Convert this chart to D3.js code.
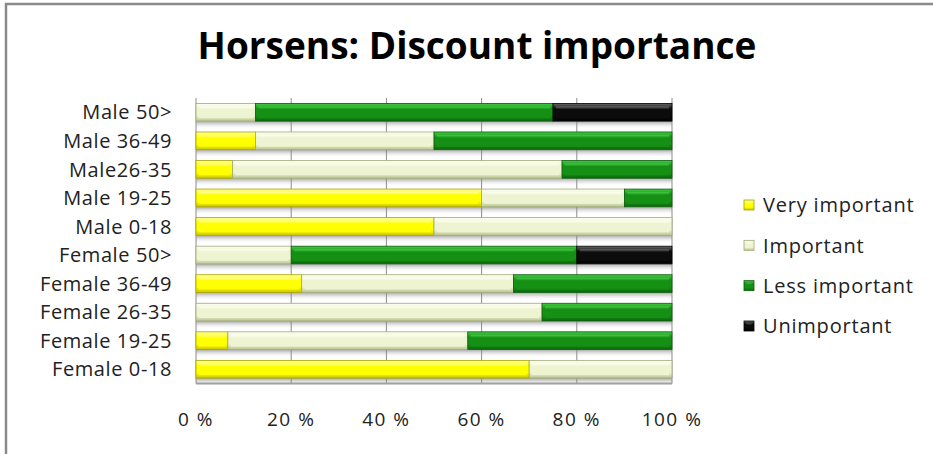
<!DOCTYPE html>
<html>
<head>
<meta charset="utf-8">
<script src="https://cdn.jsdelivr.net/npm/d3@7/dist/d3.min.js"></script>
<style>
  html, body { margin: 0; padding: 0; background: #fff; }
  svg { display: block; }
  text { font-family: "Open Sans", "Noto Sans", sans-serif; fill: #222; }
</style>
</head>
<body>
<svg id="chart" width="933" height="454"></svg>
<script>
// Respondent groups, top row first
const categories = [
  "Male 50>", "Male 36-49", "Male26-35", "Male 19-25", "Male 0-18",
  "Female 50>", "Female 36-49", "Female 26-35", "Female 19-25", "Female 0-18"
];
const seriesNames = ["Very important", "Important", "Less important", "Unimportant"];

// Share of answers per group (percent)
const veryImportant = [0, 12.5, 7.7, 60, 50, 0, 22.2, 0, 6.7, 70];
const important     = [12.5, 37.5, 69.2, 30, 50, 20, 44.5, 72.7, 50.4, 30];
const lessImportant = [62.5, 50, 23.1, 10, 0, 60, 33.3, 27.3, 42.9, 0];
const unimportant   = [25, 0, 0, 0, 0, 20, 0, 0, 0, 0];

const tickValues = [0, 20, 40, 60, 80, 100];
const tickLabels = ["0 %", "20 %", "40 %", "60 %", "80 %", "100 %"];

const rows = categories.map((c, i) => ({
  category: c,
  "Very important": veryImportant[i],
  "Important": important[i],
  "Less important": lessImportant[i],
  "Unimportant": unimportant[i]
}));

const svg = d3.select("#chart");
const plot = { left: 196, right: 672, top: 98, bottom: 383.5 };

const x = d3.scaleLinear().domain([0, 100]).range([plot.left, plot.right]);
const y = d3.scaleBand().domain(categories).range([plot.top, plot.bottom])
  .paddingInner(0.38).paddingOuter(0.19);

// Bevel palettes: highlight, face, shade, outline
const palette = {
  "Very important": { hi: "#ffffa0", face: "#ffff00", lo: "#c9c400", edge: "#a8a200" },
  "Important":      { hi: "#fdfff0", face: "#eef4d2", lo: "#b9c48f", edge: "#9eaa78" },
  "Less important": { hi: "#46cc46", face: "#159015", lo: "#0a680a", edge: "#0a5a0a" },
  "Unimportant":    { hi: "#6a6a6a", face: "#0c0c0c", lo: "#000000", edge: "#000000" }
};

const defs = svg.append("defs");
seriesNames.forEach((name, k) => {
  const p = palette[name];
  const g = defs.append("linearGradient").attr("id", "edge" + k)
    .attr("x1", 0).attr("x2", 0).attr("y1", 0).attr("y2", 1);
  g.append("stop").attr("offset", "0%").attr("stop-color", p.hi);
  g.append("stop").attr("offset", "30%").attr("stop-color", p.face);
  g.append("stop").attr("offset", "70%").attr("stop-color", p.face);
  g.append("stop").attr("offset", "100%").attr("stop-color", p.lo);
  const f = defs.append("linearGradient").attr("id", "face" + k)
    .attr("x1", 0).attr("x2", 0).attr("y1", 0).attr("y2", 1);
  f.append("stop").attr("offset", "0%").attr("stop-color", p.hi);
  f.append("stop").attr("offset", "25%").attr("stop-color", p.face);
  f.append("stop").attr("offset", "100%").attr("stop-color", p.face);
});
const shadow = defs.append("linearGradient").attr("id", "shadow")
  .attr("x1", 0).attr("x2", 0).attr("y1", 0).attr("y2", 1);
shadow.append("stop").attr("offset", "0%").attr("stop-color", "#9a9a9a").attr("stop-opacity", 0.9);
shadow.append("stop").attr("offset", "100%").attr("stop-color", "#ffffff").attr("stop-opacity", 0);

// Outer frame (runs off the right and bottom edges)
svg.append("path")
  .attr("d", "M6,460 V4 H940")
  .attr("fill", "none").attr("stroke", "#8a8a8a").attr("stroke-width", 2.5);

// Title
svg.append("text")
  .attr("x", 477).attr("y", 59)
  .attr("text-anchor", "middle")
  .style("font-size", "37px").style("font-weight", 700).style("fill", "#000")
  .text("Horsens: Discount importance");

// Shadows under each bar
svg.append("g").selectAll("rect").data(categories).join("rect")
  .attr("x", plot.left).attr("width", plot.right - plot.left)
  .attr("y", d => y(d) + y.bandwidth())
  .attr("height", 8)
  .attr("fill", "url(#shadow)");

// Gridlines and axis walls
const grid = svg.append("g");
grid.selectAll("line").data(tickValues).join("line")
  .attr("x1", d => x(d)).attr("x2", d => x(d))
  .attr("y1", plot.top).attr("y2", plot.bottom)
  .attr("stroke", "#8c8c8c").attr("stroke-width", 1);
grid.append("line")
  .attr("x1", plot.left).attr("x2", plot.right)
  .attr("y1", plot.bottom).attr("y2", plot.bottom)
  .attr("stroke", "#a0a0a0").attr("stroke-width", 2);

// Stacked bars
const stack = d3.stack().keys(seriesNames);
const layers = stack(rows);
const bevel = 3;

const layerG = svg.append("g").selectAll("g").data(layers).join("g");
layerG.each(function (layer, k) {
  const p = palette[layer.key];
  const segs = d3.select(this).selectAll("g")
    .data(layer.filter(d => d[1] - d[0] > 0))
    .join("g");
  segs.append("rect")
    .attr("x", d => x(d[0])).attr("width", d => x(d[1]) - x(d[0]))
    .attr("y", d => y(d.data.category)).attr("height", y.bandwidth())
    .attr("fill", "url(#edge" + k + ")")
    .attr("stroke", p.edge).attr("stroke-width", 0.8);
  segs.append("rect")
    .attr("x", d => x(d[0]) + bevel)
    .attr("width", d => Math.max(0, x(d[1]) - x(d[0]) - 2 * bevel))
    .attr("y", d => y(d.data.category) + bevel)
    .attr("height", y.bandwidth() - 2 * bevel)
    .attr("fill", "url(#face" + k + ")");
});

// Category labels
svg.append("g").selectAll("text").data(categories).join("text")
  .attr("x", 172)
  .attr("y", d => y(d) + y.bandwidth() / 2)
  .attr("dy", "0.36em")
  .attr("text-anchor", "end")
  .style("font-size", "20px")
  .style("letter-spacing", "0.6px")
  .text(d => d);

// Value axis labels
svg.append("g").selectAll("text").data(tickValues).join("text")
  .attr("x", d => x(d))
  .attr("y", 426)
  .attr("text-anchor", "middle")
  .style("font-size", "19px")
  .style("letter-spacing", "1.5px")
  .text((d, i) => tickLabels[i]);

// Legend
const legend = svg.append("g").attr("transform", "translate(744,0)");
const legendY = d3.scalePoint().domain(seriesNames).range([205, 326]);
const item = legend.selectAll("g").data(seriesNames).join("g")
  .attr("transform", d => `translate(0,${legendY(d)})`);
item.append("rect")
  .attr("x", 0).attr("y", -5).attr("width", 10).attr("height", 10)
  .attr("fill", (d, k) => `url(#edge${k})`)
  .attr("stroke", d => palette[d].edge).attr("stroke-width", 0.8);
item.append("rect")
  .attr("x", 2.5).attr("y", -2.5).attr("width", 5).attr("height", 5)
  .attr("fill", (d, k) => `url(#face${k})`);
item.append("text")
  .attr("x", 19).attr("dy", "0.36em")
  .style("font-size", "20px")
  .style("letter-spacing", "0.8px")
  .text(d => d);
</script>
</body>
</html>
